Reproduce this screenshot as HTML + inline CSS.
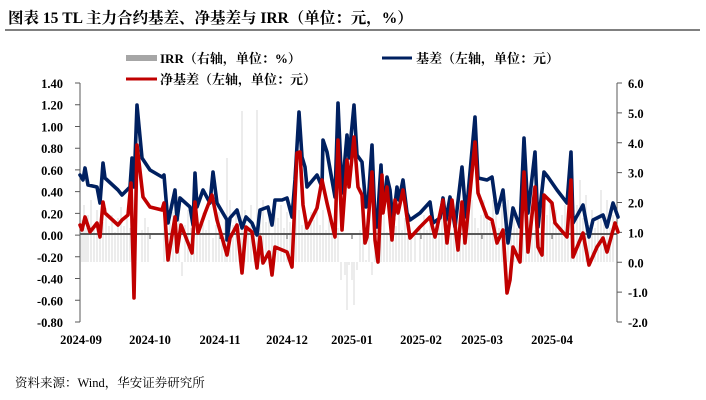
<!DOCTYPE html>
<html><head><meta charset="utf-8"><style>
body{margin:0;background:#fff;width:706px;height:400px;overflow:hidden}
svg{display:block}
text{font-family:"Liberation Serif","Noto Serif CJK SC",serif;fill:#000}
</style></head><body>
<svg width="706" height="400" viewBox="0 0 706 400" xmlns="http://www.w3.org/2000/svg">
<text x="8" y="23" font-size="15.5" font-weight="bold">图表 15 TL 主力合约基差、净基差与 IRR（单位：元，%）</text>
<line x1="5" y1="30" x2="700" y2="30" stroke="#000" stroke-width="1"/>
<!-- legend -->
<rect x="126" y="55" width="31" height="6" fill="#a6a6a6"/>
<text x="160" y="63" font-size="13" font-weight="bold">IRR（右轴，单位：%）</text>
<line x1="382" y1="58" x2="412" y2="58" stroke="#002060" stroke-width="3"/>
<text x="416" y="63" font-size="13" font-weight="bold">基差（左轴，单位：元）</text>
<line x1="126" y1="79" x2="157" y2="79" stroke="#c00000" stroke-width="3"/>
<text x="160" y="84" font-size="13" font-weight="bold">净基差（左轴，单位：元）</text>
<!-- IRR bars -->
<path stroke="#d4d4d4" stroke-width="0.9" fill="none" d="
M82 262V220 M84 262V205 M86 262V228 M88 262V215 M91 262V200 M94 262V225 M97 262V210 M100 262V230 M103 262V222 M106 262V208 M109 262V226 M112 262V215 M115 262V232 M118 262V218 M121 262V207 M124 262V226 M127 262V212 M130 262V228 M133 262V200 M142 262V230 M145 262V218 M148 262V227
M164 262V214 M167 262V232 M170 262V222 M173 262V212 M176 262V230 M179 262V218 M182 262V276 M185 262V225 M188 262V210 M191 262V228 M194 262V216 M197 262V230 M200 262V222 M203 262V213 M206 262V230 M209 262V220
M213 262V238 M216 262V225 M219 262V212 M222 262V232 M225 262V220 M227 262V158 M230 262V200 M233 262V225 M236 262V210 M239 262V228 M242 262V111 M245 262V210 M248 262V228 M251 262V205 M254 262V228 M257 262V110 M260 262V215 M263 262V200 M266 262V222 M269 262V212 M272 262V235 M275 262V208 M278 262V218 M281 262V205 M284 262V228 M287 262V212 M290 262V222 M293 262V250 M296 262V185 M299 262V210 M302 262V225 M305 262V215 M308 262V230 M311 262V212 M314 262V220 M317 262V205 M320 262V225 M323 262V210 M326 262V230 M329 262V215 M332 262V222 M335 262V212 M338 262V228 M341 262V280 M343 262V262 M345 262V275 M347 262V310 M349 262V265
M352 262V280 M354 262V305 M357 262V270 M360 262V230 M363 262V218 M366 262V260 M369 262V222 M372 262V275 M375 262V232 M378 262V218 M381 262V228 M384 262V215 M387 262V232 M390 262V220 M393 262V210 M396 262V226 M399 262V212 M402 262V230 M405 262V218 M408 262V228 M411 262V240 M415 262V235 M420 262V228 M424 262V215 M427 262V230 M430 262V222 M433 262V212 M436 262V230 M439 262V222 M442 262V210 M445 262V228 M448 262V215 M451 262V232 M454 262V222 M457 262V212 M460 262V230 M463 262V218 M466 262V226 M469 262V210 M472 262V200 M475 262V218 M478 262V228 M481 262V215 M484 262V200 M487 262V212 M490 262V222 M493 262V200 M496 262V215 M499 262V228 M502 262V205 M505 262V218 M508 262V200 M511 262V222 M514 262V212 M517 262V228 M520 262V218 M523 262V205 M526 262V228 M529 262V198 M532 262V212 M535 262V230 M538 262V218 M541 262V208 M544 262V228 M547 262V215 M550 262V200 M553 262V222 M556 262V210 M559 262V230 M562 262V215 M565 262V205 M568 262V228 M571 262V212 M574 262V222 M577 262V205 M580 262V180 M583 262V218 M586 262V195 M589 262V225 M592 262V210 M595 262V228 M598 262V218 M601 262V190 M604 262V222 M607 262V200 M610 262V228 M613 262V215"/>
<!-- axes -->
<g stroke="#595959" stroke-width="1">
<line x1="80" y1="83" x2="80" y2="322"/>
<line x1="617" y1="83" x2="617" y2="322"/>
<line x1="80" y1="234" x2="617" y2="234" stroke-width="2"/>
<path d="M75 83H80M75 104.7H80M75 126.5H80M75 148.2H80M75 169.9H80M75 191.6H80M75 213.4H80M75 235.1H80M75 256.8H80M75 278.5H80M75 300.3H80M75 322H80"/>
<path d="M617 83H622M617 112.9H622M617 142.8H622M617 172.6H622M617 202.5H622M617 232.4H622M617 262.3H622M617 292.1H622M617 322H622"/>
<path d="M150 234V239M220 234V239M287 234V239M352 234V239M421 234V239M482 234V239M552 234V239"/>
</g>
<g font-size="12.5" font-weight="bold" text-anchor="end">
<text x="63" y="88">1.40</text><text x="63" y="109.7">1.20</text><text x="63" y="131.5">1.00</text><text x="63" y="153.2">0.80</text><text x="63" y="174.9">0.60</text><text x="63" y="196.6">0.40</text><text x="63" y="218.4">0.20</text><text x="63" y="240.1">0.00</text><text x="63" y="261.8">-0.20</text><text x="63" y="283.5">-0.40</text><text x="63" y="305.3">-0.60</text><text x="63" y="327">-0.80</text>
</g>
<g font-size="12.5" font-weight="bold">
<text x="628" y="88">6.0</text><text x="628" y="117.9">5.0</text><text x="628" y="147.8">4.0</text><text x="628" y="177.6">3.0</text><text x="628" y="207.5">2.0</text><text x="628" y="237.4">1.0</text><text x="628" y="267.3">0.0</text><text x="628" y="297.1">-1.0</text><text x="628" y="327">-2.0</text>
</g>
<g font-size="12.5" font-weight="bold" text-anchor="middle">
<text x="81" y="344">2024-09</text><text x="150" y="344">2024-10</text><text x="220" y="344">2024-11</text><text x="287" y="344">2024-12</text><text x="352" y="344">2025-01</text><text x="421" y="344">2025-02</text><text x="482" y="344">2025-03</text><text x="552" y="344">2025-04</text>
</g>
<!-- basis -->
<polyline fill="none" stroke="#002060" stroke-width="3.6" stroke-linejoin="round" stroke-linecap="round" points="80,175 83,180 85,168 88,185 97,187 100,203 103,163 105,178 118,190 122,195 130,187 132,158 134,187 137,105 142,158 150,170 162,177 164,175 168,223 175,190 177,220 180,198 190,207 193,225 195,173 197,207 203,190 210,203 213,172 217,203 227,220 227,240 230,218 237,210 242,228 246,217 252,223 257,235 260,210 268,207 272,225 275,200 282,200 287,198 292,217 295,180 299,112 302,157 305,167 307,187 317,175 322,187 323,140 327,152 335,197 338,103 342,193 347,135 349,158 354,105 357,155 362,162 366,207 368,205 372,145 375,220 377,227 381,165 383,210 387,177 390,190 393,223 397,187 399,200 403,180 407,213 410,220 420,213 430,202 433,223 440,218 443,198 446,220 450,197 455,227 462,167 466,217 475,117 478,178 487,180 492,177 497,213 503,190 508,243 513,208 520,227 524,138 528,213 535,152 538,227 544,172 548,177 557,190 567,203 571,152 573,223 583,205 589,237 593,220 603,215 607,227 613,203 618,217"/>
<!-- net basis -->
<polyline fill="none" stroke="#c00000" stroke-width="3.6" stroke-linejoin="round" stroke-linecap="round" points="80,225 82,230 85,217 90,232 97,223 100,237 103,202 105,213 118,225 122,220 128,215 131,183 134,298 137,145 143,197 150,207 162,210 164,203 168,260 175,217 177,252 181,225 192,253 195,202 198,233 205,213 212,195 217,220 227,255 230,238 237,225 242,273 246,227 252,232 257,268 260,237 263,263 269,252 272,275 275,247 287,252 292,267 297,153 300,152 303,205 307,228 317,208 322,180 327,203 335,237 338,140 342,230 347,160 349,187 354,137 358,187 362,195 365,243 367,237 372,172 375,240 378,262 382,175 383,213 387,187 392,240 395,200 398,213 403,190 410,238 420,227 430,217 435,237 443,200 447,243 452,200 458,250 462,202 465,243 475,142 478,193 487,217 492,220 497,243 503,230 507,293 510,280 513,247 520,262 524,172 528,252 535,187 538,247 542,255 544,195 552,203 555,223 567,237 571,180 573,257 583,233 589,265 597,247 603,238 607,252 615,223 618,232"/>
<text x="15" y="387" font-size="12.5">资料来源：Wind，华安证券研究所</text>
</svg>
</body></html>
